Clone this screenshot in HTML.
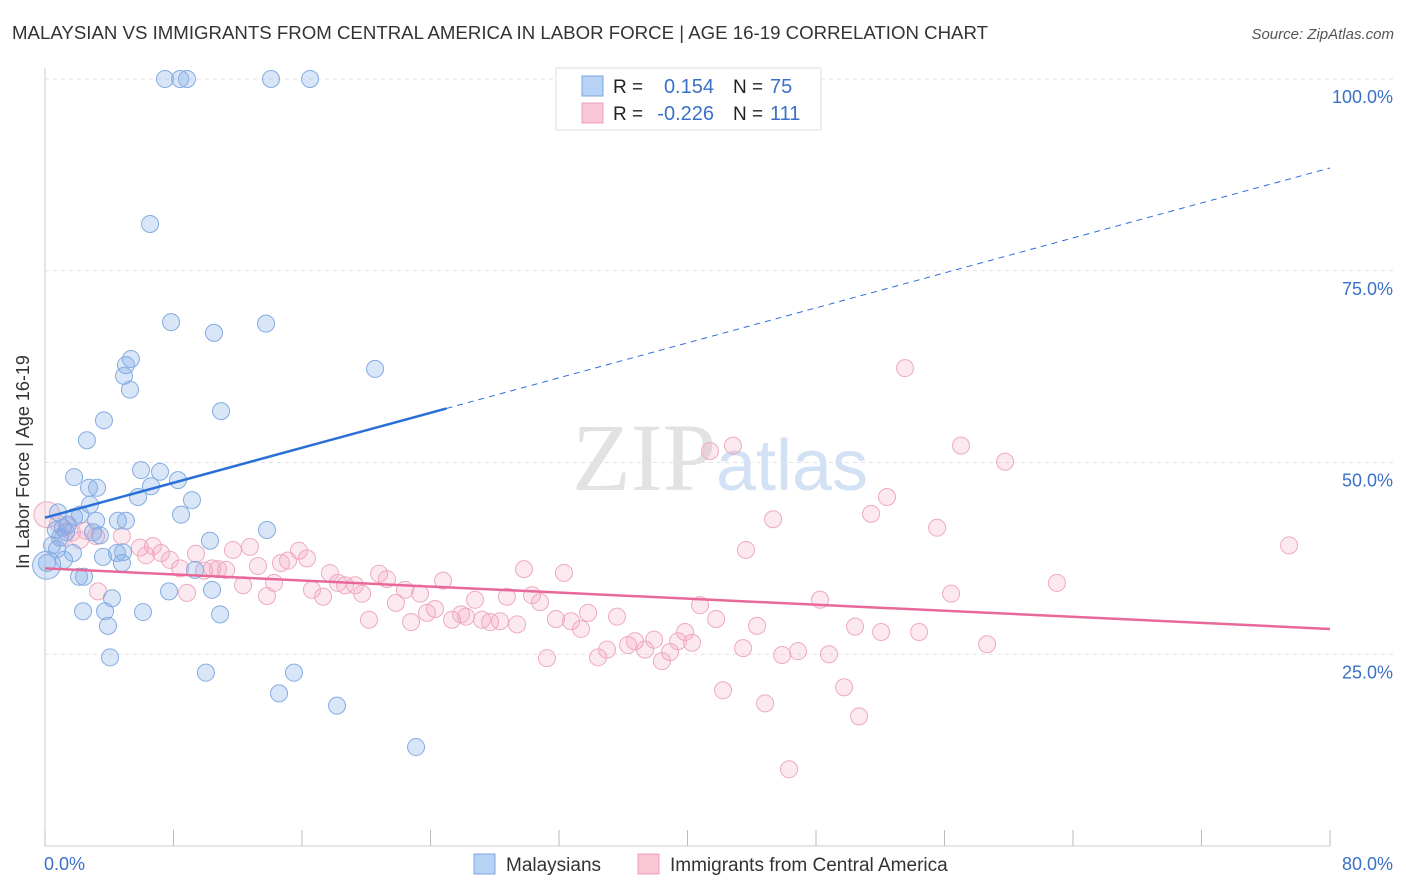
<!DOCTYPE html>
<html><head><meta charset="utf-8"><style>
body{margin:0;background:#fff;width:1406px;height:892px;overflow:hidden;font-family:"Liberation Sans",sans-serif}
svg{position:absolute;left:0;top:0}
</style></head><body>
<svg width="1406" height="892">
<text x="12" y="39" font-size="18" fill="#333" textLength="976" lengthAdjust="spacingAndGlyphs">MALAYSIAN VS IMMIGRANTS FROM CENTRAL AMERICA IN LABOR FORCE | AGE 16-19 CORRELATION CHART</text>
<text x="1394" y="39" font-size="15" fill="#555" font-style="italic" text-anchor="end">Source: ZipAtlas.com</text>
<g id="grid"></g>
<text x="720" y="490" font-size="96" text-anchor="middle" fill="#e2e2e2" font-family="Liberation Serif,serif">ZIP<tspan fill="#d2e1f4" font-family="Liberation Sans,sans-serif" font-size="72">atlas</tspan></text>
<g id="axes"></g>
<g id="pts"></g>
<g id="trend"></g>
<text x="25" y="458" font-size="18" fill="#333" text-anchor="middle" transform="rotate(-90 29 458)">In Labor Force | Age 16-19</text>
<g>
<rect x="556" y="68" width="265" height="62" fill="#fff" stroke="#ddd"/>
<rect x="582" y="76" width="21" height="20" fill="#b8d2f5" stroke="#7aa6e0"/>
<rect x="582" y="103" width="21" height="20" fill="#f9c6d6" stroke="#eca0b9"/>
<text x="613" y="93" font-size="19" fill="#222">R =</text>
<text x="714" y="93" font-size="20" fill="#3a70c8" text-anchor="end">0.154</text>
<text x="733" y="93" font-size="19" fill="#222">N =</text>
<text x="770" y="93" font-size="20" fill="#3a70c8">75</text>
<text x="613" y="120" font-size="19" fill="#222">R =</text>
<text x="714" y="120" font-size="20" fill="#3a70c8" text-anchor="end">-0.226</text>
<text x="733" y="120" font-size="19" fill="#222">N =</text>
<text x="770" y="120" font-size="20" fill="#3a70c8">111</text>
</g>
<g>
<rect x="474" y="854" width="21" height="20" fill="#b8d2f5" stroke="#7aa6e0"/>
<text x="506" y="871" font-size="19" fill="#333">Malaysians</text>
<rect x="638" y="854" width="21" height="20" fill="#f9c6d6" stroke="#eca0b9"/>
<text x="670" y="871" font-size="19" fill="#333">Immigrants from Central America</text>
</g>
</svg>
<script>
const blueX=[7.47,8.41,8.84,14.07,16.5,6.54,7.85,10.52,13.76,20.55,5.35,5.04,4.92,5.29,10.96,3.67,2.61,1.81,5.98,7.16,8.28,6.6,2.74,3.24,5.79,9.15,8.47,2.8,0.81,2.18,1.81,3.18,4.54,5.04,13.82,10.27,1.43,1.12,0.68,1.31,2.99,3.42,0.93,0.44,0.75,3.61,4.48,4.86,4.79,1.74,1.18,0.12,2.12,2.43,9.34,4.17,7.72,10.4,2.37,3.74,6.1,10.9,3.92,4.05,10.02,15.5,14.57,18.18,23.1,0.1];
const blueY=[100,100,100,100,100,81.1,68.3,66.9,68.1,62.2,63.5,62.7,61.3,59.5,56.7,55.5,52.9,48.1,49.0,48.8,47.7,46.9,46.7,46.7,45.5,45.1,43.2,44.5,43.5,43.2,42.9,42.4,42.4,42.4,41.2,39.8,41.9,41.5,41.2,40.9,40.9,40.5,40.2,39.2,38.7,37.7,38.2,38.3,36.9,38.2,37.3,36.9,35.1,35.1,36.0,32.3,33.2,33.4,30.6,30.6,30.5,30.2,28.7,24.6,22.6,22.6,19.9,18.3,12.9,36.6];
const pinkX=[0.12,0.81,1.37,1.68,2.55,1.12,2.18,3.18,4.79,5.91,6.29,6.72,7.22,7.78,8.41,8.84,9.4,9.9,10.4,10.77,11.27,11.7,12.33,12.76,13.26,13.82,14.26,14.69,15.13,15.81,16.31,16.62,17.31,17.74,18.24,18.68,19.3,19.74,20.17,20.8,21.29,21.85,22.41,22.79,23.35,23.78,24.28,24.78,25.34,25.9,26.21,26.77,27.21,27.71,28.33,28.76,29.39,29.82,30.32,30.82,31.25,31.81,32.31,32.75,33.37,33.81,34.43,34.99,35.61,36.3,36.73,37.36,37.92,38.41,38.91,39.41,39.85,40.28,40.78,41.4,41.78,42.21,42.83,43.46,43.64,44.33,44.83,45.33,45.89,46.32,46.88,48.25,48.81,49.75,50.43,50.68,51.43,52.05,52.42,53.54,54.42,55.54,56.41,57.03,58.65,59.77,63.0,77.45,3.3];
const pinkY=[43.2,42.1,41.7,40.9,41.1,40.2,39.9,40.4,40.4,38.9,37.9,39.1,38.2,37.3,36.2,33.0,38.1,35.9,36.2,36.1,36.0,38.6,34.0,39.0,36.5,32.6,34.3,36.9,37.2,38.5,37.5,33.4,32.5,35.6,34.3,34.0,34.0,32.9,29.5,35.5,34.8,31.7,33.4,29.2,32.9,30.4,30.9,34.6,29.5,30.2,29.9,32.1,29.5,29.2,29.3,32.5,28.9,36.1,32.7,31.8,24.5,29.6,35.6,29.3,28.3,30.4,24.6,25.6,29.9,26.2,26.7,25.6,26.9,24.1,25.3,26.7,27.9,26.5,31.4,51.5,29.6,20.3,52.2,25.8,38.6,28.7,18.6,42.6,24.9,10.0,25.4,32.1,25.0,20.7,28.6,16.9,43.3,27.9,45.5,62.3,27.9,41.5,32.9,52.2,26.3,50.1,34.3,39.2,33.2];
const xTicks=[0,8,16,24,32,40,48,56,64,72,80];
const yTicks=[25,50,75,100];
const blueTrend=[42.8,88.4], pinkTrend=[36.2,28.3];
const NS='http://www.w3.org/2000/svg';
const sx=v=>45+v/80*1285, sy=v=>846-v/100*767;
function mk(tag,attrs,parent){const e=document.createElementNS(NS,tag);for(const k in attrs)e.setAttribute(k,attrs[k]);document.getElementById(parent).appendChild(e);return e;}
yTicks.forEach(t=>{
 const l=mk('line',{x1:45,x2:1394,y1:sy(t),y2:sy(t),stroke:'#e2e2e2','stroke-dasharray':'4,4'},'grid');
 
 
 const tx=mk('text',{x:1393,y:sy(t)+24,'font-size':18,fill:'#3a70c8','text-anchor':'end'},'axes');
 tx.textContent=t.toFixed(1)+'%';
 
 
});
const ax=mk('line',{x1:45,x2:1330,y1:846,y2:846,stroke:'#ccc'},'axes');


const ay=mk('line',{x1:45,x2:45,y1:68,y2:846,stroke:'#ccc'},'axes');


xTicks.forEach(t=>{
 const l=mk('line',{x1:sx(t),x2:sx(t),y1:830,y2:846,stroke:'#bbb'},'axes');
 
 
});
const x0=mk('text',{x:44,y:870,'font-size':18,fill:'#3a70c8'},'axes');x0.textContent='0.0%';


const x1=mk('text',{x:1393,y:870,'font-size':18,fill:'#3a70c8','text-anchor':'end'},'axes');x1.textContent='80.0%';


pinkX.forEach((x,i)=>{
 const c=mk('circle',{cx:sx(x),cy:sy(pinkY[i]),r:i==0?13:8.5,fill:'rgba(244,165,192,0.25)',stroke:'#eeaac2','stroke-width':1},'pts');
 
 
});
blueX.forEach((x,i)=>{
 const c=mk('circle',{cx:sx(x),cy:sy(blueY[i]),r:i==blueX.length-1?14:8.5,fill:'rgba(130,172,232,0.3)',stroke:'#84acE2','stroke-width':1},'pts');
 
 
});
const bAt=x=>blueTrend[0]+(blueTrend[1]-blueTrend[0])*x/80;
const b1=mk('line',{x1:sx(0),y1:sy(bAt(0)),x2:sx(25),y2:sy(bAt(25)),stroke:'#2a6fd6','stroke-width':2.5},'trend');


const b2=mk('line',{x1:sx(25),y1:sy(bAt(25)),x2:sx(80),y2:sy(bAt(80)),stroke:'#2a6fd6','stroke-width':1,'stroke-dasharray':'6,5'},'trend');


const p1=mk('line',{x1:sx(0),y1:sy(pinkTrend[0]),x2:sx(80),y2:sy(pinkTrend[1]),stroke:'#e8689a','stroke-width':2.5},'trend');


</script>
</body></html>
